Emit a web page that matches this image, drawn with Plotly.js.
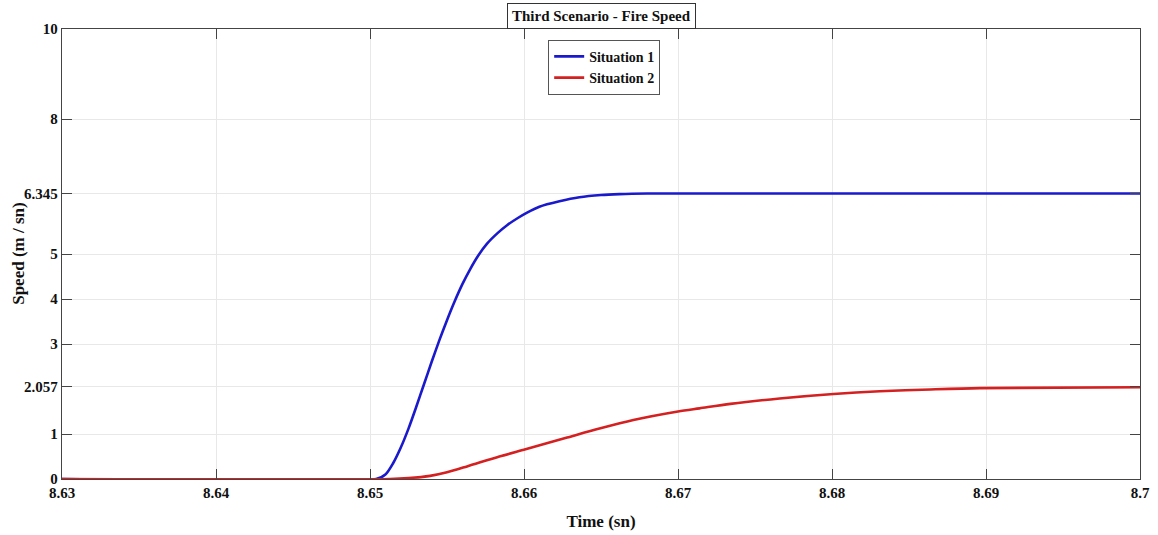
<!DOCTYPE html>
<html>
<head>
<meta charset="utf-8">
<script src="https://cdn.plot.ly/plotly-3.0.1.min.js"></script>
<style>html,body{margin:0;padding:0;background:#fff;}#chart{width:1158px;height:535px;}</style>
</head>
<body>
<div id="chart"></div>
<script>
// Situation 1 (blue)
const time1 = [8.63, 8.6504, 8.6510, 8.6515, 8.6520, 8.6525, 8.6530, 8.6535, 8.6540, 8.6545, 8.6550, 8.6555, 8.6560, 8.6565, 8.6570, 8.6576, 8.6583, 8.6589, 8.6596, 8.6602, 8.6610, 8.6623, 8.6636, 8.6650, 8.6662, 8.6680, 8.6700, 8.70];
const speed1 = [0, 0, 0.10, 0.35, 0.70, 1.12, 1.60, 2.10, 2.60, 3.08, 3.53, 3.95, 4.33, 4.66, 4.95, 5.23, 5.47, 5.64, 5.80, 5.92, 6.05, 6.17, 6.26, 6.31, 6.33, 6.343, 6.345, 6.345];
// Situation 2 (red)
const time2 = [8.63, 8.6513, 8.6525, 8.6539, 8.6550, 8.6563, 8.6584, 8.6601, 8.6628, 8.6649, 8.6671, 8.6700, 8.6714, 8.6734, 8.6766, 8.6801, 8.6831, 8.6864, 8.6896, 8.70];
const speed2 = [0, 0, 0.02, 0.07, 0.15, 0.28, 0.50, 0.66, 0.92, 1.12, 1.31, 1.50, 1.57, 1.67, 1.79, 1.89, 1.95, 1.99, 2.02, 2.04];
const xTicks = [8.63, 8.64, 8.65, 8.66, 8.67, 8.68, 8.69, 8.70];
const xTickText = ['8.63', '8.64', '8.65', '8.66', '8.67', '8.68', '8.69', '8.7'];
const yTicks = [0, 1, 2.057, 3, 4, 5, 6.345, 8, 10];
const yTickText = ['0', '1', '2.057', '3', '4', '5', '6.345', '8', '10'];
const names = ['Situation 1', 'Situation 2'];

const fontFam = 'Liberation Serif, Times New Roman, serif';
const traces = [
  {x: time1, y: speed1, name: names[0], type: 'scatter', mode: 'lines', line: {color: '#1a1acc', width: 2.6, shape: 'spline', smoothing: 0.8}},
  {x: time2, y: speed2, name: names[1], type: 'scatter', mode: 'lines', line: {color: '#d42020', width: 2.6, shape: 'spline', smoothing: 0.8}}
];
const axisCommon = {
  showline: true, mirror: 'allticks', linecolor: '#444', linewidth: 1.2,
  ticks: 'inside', ticklen: 10, tickcolor: '#444', tickwidth: 1,
  showgrid: true, gridcolor: '#e8e8e8', gridwidth: 1, zeroline: false,
  tickfont: {family: fontFam, size: 15, color: '#111', weight: 'bold'}
};
const layout = {
  width: 1158, height: 535,
  margin: {l: 62, r: 18, t: 29, b: 56},
  paper_bgcolor: '#fff', plot_bgcolor: '#fff',
  showlegend: true,
  legend: {x: 0.451, y: 0.976, xanchor: 'left', yanchor: 'top', bordercolor: '#555', borderwidth: 1, bgcolor: '#fff',
           font: {family: fontFam, size: 14, color: '#111', weight: 'bold'}, tracegroupgap: 0, itemwidth: 30},
  xaxis: Object.assign({}, axisCommon, {range: [8.63, 8.70], tickvals: xTicks, ticktext: xTickText,
          title: {text: 'Time (sn)', font: {family: fontFam, size: 17, color: '#111', weight: 'bold'}, standoff: 14}}),
  yaxis: Object.assign({}, axisCommon, {range: [0, 10], tickvals: yTicks, ticktext: yTickText}),
  annotations: [{
    text: 'Third Scenario - Fire Speed', xref: 'paper', yref: 'paper', x: 0.5, y: 1.0,
    xanchor: 'center', yanchor: 'bottom', showarrow: false,
    font: {family: fontFam, size: 15, color: '#111', weight: 'bold'},
    bordercolor: '#333', borderwidth: 1, borderpad: 4, bgcolor: '#fff'
  }, {
    text: 'Speed (m / sn)', xref: 'paper', yref: 'paper', x: -0.041, y: 0.5,
    xanchor: 'center', yanchor: 'middle', textangle: -90, showarrow: false,
    font: {family: fontFam, size: 17, color: '#111', weight: 'bold'}
  }]
};
Plotly.newPlot('chart', traces, layout, {displayModeBar: false, staticPlot: true});
</script>
</body>
</html>
